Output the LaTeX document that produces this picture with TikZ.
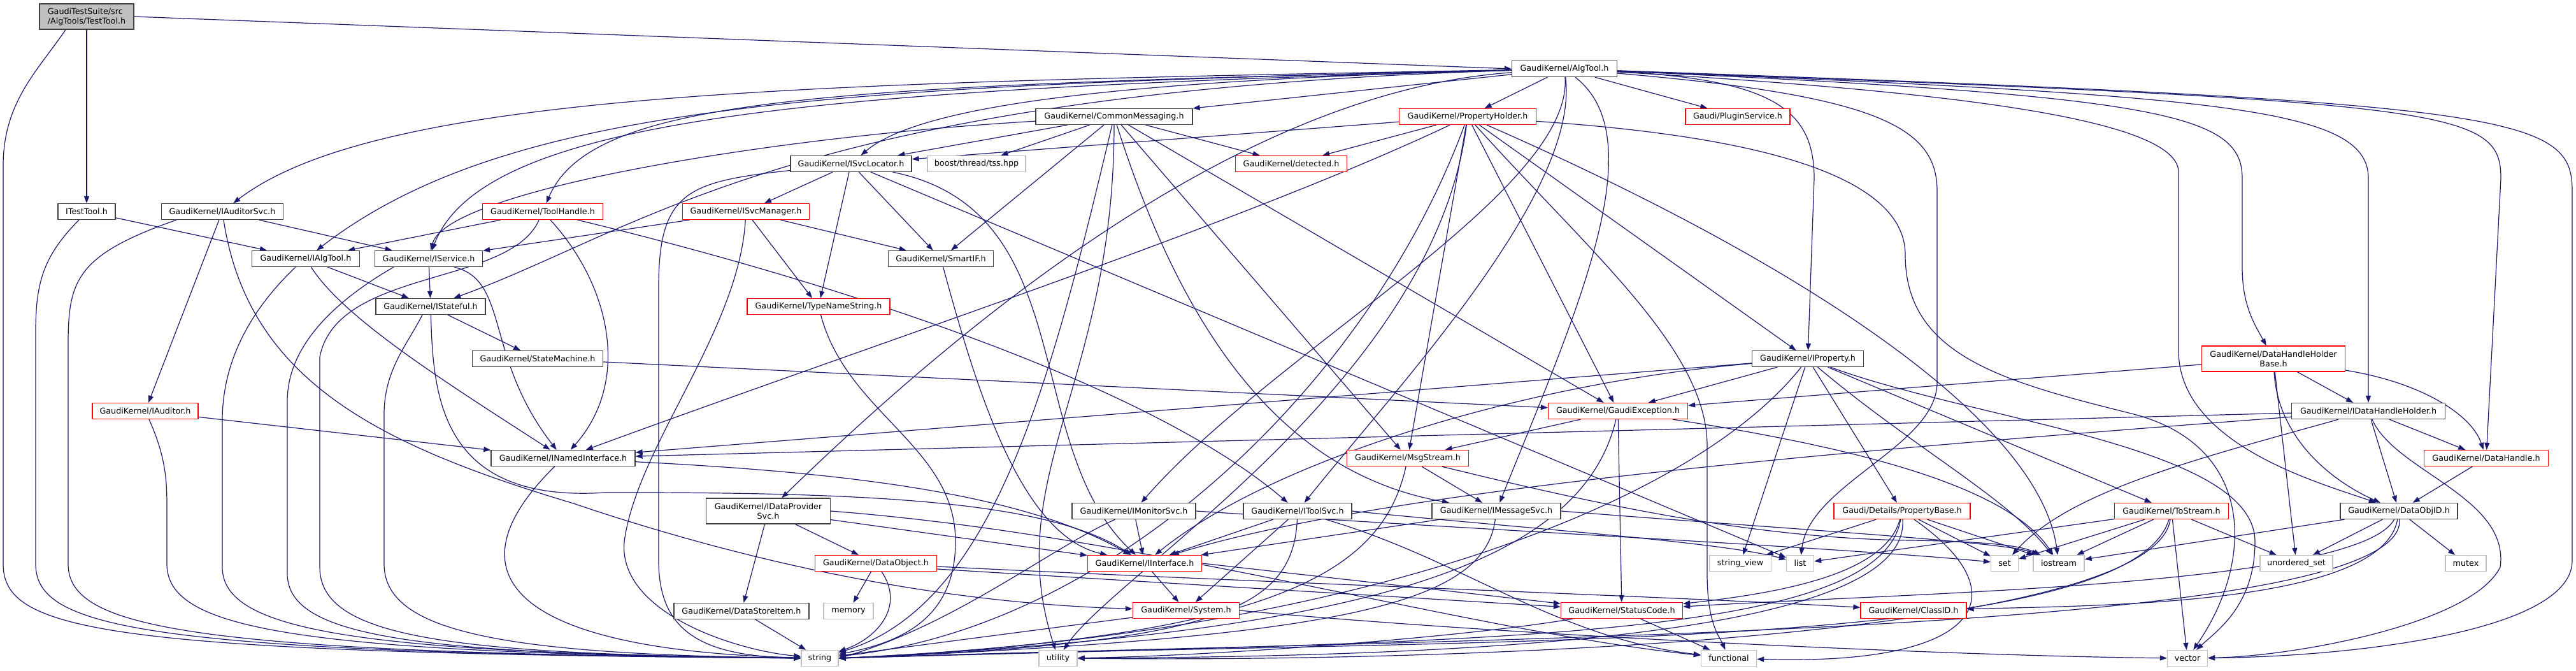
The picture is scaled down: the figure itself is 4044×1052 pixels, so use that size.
\documentclass[tikz,border=0pt]{standalone}
\usepackage{fontspec}
\setmainfont{DejaVu Sans}
\usetikzlibrary{arrows.meta,calc}
\pgfdeclarelayer{bg}
\pgfsetlayers{bg,main}
\definecolor{edgec}{HTML}{191970}
\definecolor{gA}{HTML}{404040}
\definecolor{gB}{HTML}{BFBFBF}
\definecolor{rdc}{HTML}{FF0000}
\begin{document}
\begin{tikzpicture}[x=1pt,y=1pt,
 nd/.style={draw=gA, fill=white, line width=1.3pt, inner sep=0pt, minimum height=25pt, font=\fontsize{12.75}{15}\selectfont, text=black},
 rdn/.style={nd, draw=rdc},
 gyn/.style={nd, draw=gB},
 rtn/.style={nd, fill=gB},
 e/.style={draw=edgec, line width=1.2pt, -{Triangle[length=11pt,width=8pt]}}]
\useasboundingbox (0,0) rectangle (4044,-1052);
% nodes
\node[rtn, minimum width=148pt, minimum height=40pt, align=left] (TT) at (136,-26) {GaudiTestSuite/src\\/AlgTools/TestTool.h};
\node[nd, minimum width=165pt] (AT) at (2456,-108) {GaudiKernel/AlgTool.h};
\node[nd, minimum width=246pt] (CM) at (1749,-183) {GaudiKernel/CommonMessaging.h};
\node[rdn, minimum width=215pt] (PH) at (2304,-183) {GaudiKernel/PropertyHolder.h};
\node[rdn, minimum width=164pt] (PS) at (2728,-183) {Gaudi/PluginService.h};
\node[nd, minimum width=190pt] (SL) at (1336,-257) {GaudiKernel/ISvcLocator.h};
\node[gyn, minimum width=154pt] (TSS) at (1533,-257) {boost/thread/tss.hpp};
\node[rdn, minimum width=175pt] (DET) at (2027,-257) {GaudiKernel/detected.h};
\node[nd, minimum width=90pt] (ITT) at (136,-332) {ITestTool.h};
\node[nd, minimum width=191pt] (IAS) at (349,-332) {GaudiKernel/IAuditorSvc.h};
\node[rdn, minimum width=189pt] (TH) at (852,-332) {GaudiKernel/ToolHandle.h};
\node[rdn, minimum width=199pt] (SM) at (1171,-332) {GaudiKernel/ISvcManager.h};
\node[nd, minimum width=169pt] (IAT) at (480,-406) {GaudiKernel/IAlgTool.h};
\node[nd, minimum width=169pt] (IS) at (673,-406) {GaudiKernel/IService.h};
\node[nd, minimum width=165pt] (SIF) at (1477,-406) {GaudiKernel/SmartIF.h};
\node[nd, minimum width=172pt] (IST) at (676,-481) {GaudiKernel/IStateful.h};
\node[rdn, minimum width=224pt] (TNS) at (1285,-481) {GaudiKernel/TypeNameString.h};
\node[nd, minimum width=205pt] (STM) at (844,-563) {GaudiKernel/StateMachine.h};
\node[nd, minimum width=175pt] (IP) at (2838,-563) {GaudiKernel/IProperty.h};
\node[rdn, minimum width=225pt, minimum height=40pt, align=center] (DHHB) at (3569,-563) {GaudiKernel/DataHandleHolder\\Base.h};
\node[rdn, minimum width=166pt] (IAU) at (228,-645) {GaudiKernel/IAuditor.h};
\node[rdn, minimum width=219pt] (GE) at (2540,-645) {GaudiKernel/GaudiException.h};
\node[nd, minimum width=241pt] (IDHH) at (3718,-645) {GaudiKernel/IDataHandleHolder.h};
\node[nd, minimum width=226pt] (INI) at (884,-719) {GaudiKernel/INamedInterface.h};
\node[rdn, minimum width=191pt] (MS) at (2210,-719) {GaudiKernel/MsgStream.h};
\node[rdn, minimum width=195pt] (DH) at (3903,-719) {GaudiKernel/DataHandle.h};
\node[nd, minimum width=195pt, minimum height=40pt, align=center] (IDPS) at (1206,-802) {GaudiKernel/IDataProvider\\Svc.h};
\node[nd, minimum width=194pt] (IMON) at (1780,-802) {GaudiKernel/IMonitorSvc.h};
\node[nd, minimum width=170pt] (ITS) at (2037,-802) {GaudiKernel/IToolSvc.h};
\node[nd, minimum width=202pt] (IMS) at (2349,-802) {GaudiKernel/IMessageSvc.h};
\node[rdn, minimum width=214pt] (PB) at (2986,-802) {Gaudi/Details/PropertyBase.h};
\node[rdn, minimum width=179pt] (TS) at (3409,-802) {GaudiKernel/ToStream.h};
\node[nd, minimum width=184pt] (DOID) at (3766,-802) {GaudiKernel/DataObjID.h};
\node[rdn, minimum width=191pt] (DO) at (1375,-884) {GaudiKernel/DataObject.h};
\node[rdn, minimum width=179pt] (II) at (1797,-884) {GaudiKernel/IInterface.h};
\node[gyn, minimum width=97pt] (SV) at (2732,-884) {string\_view};
\node[gyn, minimum width=43pt] (LIST) at (2826,-884) {list};
\node[gyn, minimum width=43pt] (SET) at (3147,-884) {set};
\node[gyn, minimum width=80pt] (IOS) at (3232,-884) {iostream};
\node[gyn, minimum width=114pt] (USET) at (3605,-884) {unordered\_set};
\node[gyn, minimum width=64pt] (MUT) at (3871,-884) {mutex};
\node[nd, minimum width=212pt] (DSI) at (1164,-959) {GaudiKernel/DataStoreItem.h};
\node[gyn, minimum width=78pt] (MEM) at (1332,-959) {memory};
\node[rdn, minimum width=167pt] (SYS) at (1862,-958) {GaudiKernel/System.h};
\node[rdn, minimum width=191pt] (SC) at (2546,-958) {GaudiKernel/StatusCode.h};
\node[rdn, minimum width=166pt] (CID) at (3004,-958) {GaudiKernel/ClassID.h};
\node[gyn, minimum width=58pt] (STR) at (1287,-1033) {string};
\node[gyn, minimum width=60pt] (UTIL) at (1661,-1033) {utility};
\node[gyn, minimum width=87pt] (FUNC) at (2714,-1033) {functional};
\node[gyn, minimum width=63pt] (VEC) at (3434,-1033) {vector};

\begin{pgfonlayer}{bg}
\fill[white] (0,0) rectangle (4044,-1052);
% TestTool
\draw[e] (TT.east) -- (AT.west);
\draw[e] (TT) -- (ITT);
\draw[e] ($(TT.south)+(-33,0)$) .. controls (60,-110) and (5,-160) .. (5,-260) -- (5,-885) .. controls (5,-990) and (160,-1025) .. (STR);
% AlgTool
\draw[e] (AT) -- (PS);
\draw[e] (AT) -- (CM);
\draw[e] (AT) -- (PH);
\draw[e] (AT) .. controls (1300,-130) and (600,-140) .. (IAS);
\draw[e] (AT) .. controls (1300,-135) and (800,-160) .. (IAT);
\draw[e] (AT) .. controls (1300,-140) and (760,-180) .. (IS);
\draw[e] (AT) .. controls (1250,-145) and (1010,-360) .. (IST);
\draw[e] (AT) .. controls (1300,-135) and (930,-150) .. (TH);
\draw[e] (AT) .. controls (1800,-125) and (1450,-160) .. (SL);
\draw[e] (AT) .. controls (2000,-140) and (1600,-420) .. (IDPS);
\draw[e] (AT) .. controls (2470,-300) and (2000,-550) .. (IMON);
\draw[e] (AT) .. controls (2480,-300) and (2200,-600) .. (ITS);
\draw[e] (AT) .. controls (2600,-220) and (2470,-500) .. (IMS);
\draw[e] (AT) .. controls (2780,-125) and (2848,-170) .. (2848,-280) -- (IP);
\draw[e] (AT) .. controls (2950,-150) and (3041,-200) .. (3041,-300) -- (3041,-600) .. controls (3041,-700) and (2840,-760) .. (LIST);
\draw[e] (AT) .. controls (3000,-140) and (3420,-180) .. (3420,-270) -- (3420,-550) .. controls (3420,-700) and (3650,-760) .. (DOID);
\draw[e] (AT) .. controls (3400,-150) and (3520,-180) .. (3520,-280) -- (3520,-420) .. controls (3520,-480) and (3540,-510) .. (DHHB);
\draw[e] (AT) .. controls (3500,-150) and (3718,-170) .. (3718,-280) -- (IDHH);
\draw[e] (AT) .. controls (3850,-160) and (3926,-170) .. (3926,-280) -- (DH);
\draw[e] (AT) .. controls (3950,-160) and (4038,-180) .. (4038,-300) -- (4038,-880) .. controls (4038,-990) and (3700,-1030) .. (VEC);
% CommonMessaging
\draw[e] (CM) .. controls (1200,-215) and (700,-300) .. (IS);
\draw[e] (CM) -- (SL);
\draw[e] (CM) -- (TSS);
\draw[e] (CM) -- (SIF);
\draw[e] (CM) -- (DET);
\draw[e] (CM) .. controls (1650,-600) and (1560,-950) .. (STR);
\draw[e] (CM) .. controls (1749,-600) and (1570,-750) .. (UTIL);
\draw[e] (CM) -- (MS);
\draw[e] (CM) .. controls (1850,-500) and (2000,-740) .. (IMS);
\draw[e] (CM) -- (GE);
% PropertyHolder
\draw[e] (PH) -- (SL);
\draw[e] (PH) -- (DET);
\draw[e] (PH) .. controls (1950,-350) and (1400,-530) .. (INI);
\draw[e] (PH) .. controls (2150,-600) and (1750,-985) .. (STR);
\draw[e] (PH) .. controls (2250,-600) and (1750,-900) .. (UTIL);
\draw[e] (PH) -- (MS);
\draw[e] (PH) -- (GE);
\draw[e] (PH) -- (IP);
\draw[e] (PH) .. controls (2800,-400) and (3200,-650) .. (IOS);
\draw[e] (PH) .. controls (2700,-210) and (2991,-260) .. (2991,-400) .. controls (2991,-560) and (3150,-600) .. (3350,-650) .. controls (3540,-700) and (3540,-880) .. (VEC);
\draw[e] (PH) .. controls (2500,-400) and (2680,-550) .. (2680,-700) -- (2680,-900) .. controls (2680,-980) and (2700,-1000) .. (FUNC);
% ISvcLocator
\draw[e] (SL) -- (SM);
\draw[e] (SL) -- (TNS);
\draw[e] (SL) -- (SIF);
\draw[e] (SL) .. controls (1700,-330) and (1600,-700) .. (II);
\draw[e] (SL) -- (LIST);
\draw[e] (SL) .. controls (1080,-285) and (1034,-300) .. (1034,-450) -- (1034,-880) .. controls (1034,-990) and (1100,-1030) .. (STR);
% ITestTool
\draw[e] (ITT) -- (IAT);
\draw[e] ($(ITT.south)+(-12,0)$) .. controls (70,-400) and (56,-440) .. (56,-520) -- (56,-885) .. controls (56,-985) and (220,-1025) .. (STR);
% IAuditorSvc
\draw[e] (IAS) -- (IS);
\draw[e] (IAS) -- (IAU);
\draw[e] ($(IAS.south)+(-72,0)$) .. controls (120,-400) and (107,-440) .. (107,-540) -- (107,-885) .. controls (107,-985) and (290,-1025) .. (STR);
\draw[e] (IAS) .. controls (390,-600) and (600,-700) .. (900,-790) .. controls (1300,-925) and (1600,-950) .. (SYS);
% IAuditor
\draw[e] (IAU) -- (INI);
\draw[e] (IAU) .. controls (262,-720) and (262,-760) .. (262,-800) -- (262,-885) .. controls (262,-985) and (450,-1025) .. (STR);
% IAlgTool
\draw[e] (IAT) -- (IST);
\draw[e] (IAT) .. controls (540,-500) and (700,-600) .. (INI);
\draw[e] ($(IAT.south)+(-16,0)$) .. controls (400,-480) and (349,-560) .. (349,-660) -- (349,-890) .. controls (349,-990) and (560,-1025) .. (STR);
% IService
\draw[e] (IS) -- (IST);
\draw[e] ($(IS.south)+(40,0)$) .. controls (800,-440) and (760,-560) .. (INI);
\draw[e] ($(IS.south)+(-55,0)$) .. controls (530,-470) and (451,-540) .. (451,-630) -- (451,-900) .. controls (451,-1000) and (650,-1027) .. (STR);
% IStateful
\draw[e] (IST) -- (STM);
\draw[e] ($(IST.south)+(-13,0)$) .. controls (640,-540) and (603,-580) .. (603,-650) -- (603,-885) .. controls (603,-990) and (780,-1027) .. (STR);
\draw[e] (IST) .. controls (680,-620) and (690,-790) .. (950,-773) .. controls (1400,-772) and (1650,-790) .. (II);
% ToolHandle
\draw[e] (TH) -- (IAT);
\draw[e] (TH) .. controls (960,-450) and (990,-600) .. (INI);
\draw[e] (TH) .. controls (1300,-440) and (1800,-600) .. (ITS);
\draw[e] (TH) .. controls (800,-450) and (530,-420) .. (502,-560) -- (502,-890) .. controls (502,-1000) and (700,-1027) .. (STR);
% ISvcManager
\draw[e] (SM) -- (IS);
\draw[e] (SM) -- (TNS);
\draw[e] (SM) -- (SIF);
\draw[e] (SM) .. controls (1160,-520) and (1000,-700) .. (980,-850) .. controls (970,-960) and (1150,-1020) .. (STR);
% SmartIF, TypeNameString, StateMachine
\draw[e] (SIF) .. controls (1530,-600) and (1600,-840) .. (II);
\draw[e] (TNS) .. controls (1330,-650) and (1500,-700) .. (1500,-850) .. controls (1500,-980) and (1400,-1010) .. (STR);
\draw[e] (STM) -- (GE);
% IProperty
\draw[e] (IP) -- (INI);
\draw[e] (IP) .. controls (2400,-600) and (2000,-720) .. (II);
\draw[e] (IP) -- (GE);
\draw[e] (IP) .. controls (2650,-800) and (2100,-1000) .. (STR.east);
\draw[e] (IP) -- (SV);
\draw[e] (IP) -- (PB);
\draw[e] (IP) .. controls (3000,-700) and (3150,-780) .. (IOS);
\draw[e] (IP) -- (TS);
\draw[e] (IP) .. controls (3100,-660) and (3540,-700) .. (3540,-850) .. controls (3540,-950) and (3480,-990) .. (VEC);
% DataHandleHolderBase
\draw[e] (DHHB) -- (GE);
\draw[e] (DHHB) -- (USET);
\draw[e] (DHHB) .. controls (3575,-680) and (3650,-750) .. (DOID);
\draw[e] (DHHB) -- (IDHH);
\draw[e] (DHHB) .. controls (3800,-600) and (3880,-650) .. (DH);
% GaudiException
\draw[e] (GE) -- (MS);
\draw[e] (GE) .. controls (2480,-900) and (2100,-995) .. (STR.east);
\draw[e] (GE) -- (SC);
\draw[e] (GE) .. controls (2900,-700) and (3150,-760) .. (IOS);
% IDataHandleHolder
\draw[e] (IDHH) -- (INI);
\draw[e] (IDHH) .. controls (3000,-700) and (2200,-760) .. (II);
\draw[e] (IDHH) .. controls (3450,-720) and (3250,-770) .. (SET);
\draw[e] (IDHH) -- (DOID);
\draw[e] (IDHH) .. controls (3760,-740) and (3940,-780) .. (3925,-890) .. controls (3880,-980) and (3600,-1030) .. (VEC);
\draw[e] (IDHH) -- (DH);
% INamedInterface, MsgStream, DataHandle
\draw[e] (INI) .. controls (1300,-740) and (1600,-770) .. (II);
\draw[e] (INI) .. controls (700,-900) and (800,-1020) .. (STR);
\draw[e] (MS) -- (IMS);
\draw[e] (MS) .. controls (2170,-900) and (2000,-1000) .. (STR.east);
\draw[e] (MS) .. controls (2500,-790) and (2750,-845) .. (3000,-848) .. controls (3150,-850) and (3180,-860) .. (IOS);
\draw[e] (DH) -- (DOID);
% IDataProviderSvc
\draw[e] (IDPS) -- (DSI);
\draw[e] (IDPS) -- (DO);
\draw[e] (IDPS) -- (II);
\draw[e] (IDPS.east) .. controls (1800,-840) and (2300,-990) .. (FUNC);
% IMonitorSvc
\draw[e] (IMON) -- (II);
\draw[e] (IMON) .. controls (1650,-860) and (1500,-980) .. (STR.east);
\draw[e] (IMON.east) .. controls (2300,-830) and (2900,-860) .. (SET);
% IToolSvc
\draw[e] (ITS) -- (II);
\draw[e] (ITS) -- (SYS);
\draw[e] (ITS) .. controls (2030,-960) and (1900,-1010) .. (STR.east);
\draw[e] (ITS) .. controls (2300,-880) and (2440,-1000) .. (FUNC);
\draw[e] (ITS.east) .. controls (2400,-830) and (2700,-850) .. (LIST);
% IMessageSvc
\draw[e] (IMS) -- (II);
\draw[e] (IMS) .. controls (2330,-950) and (2100,-1000) .. (STR.east);
\draw[e] (IMS.east) .. controls (2800,-830) and (3150,-850) .. (IOS);
% PropertyBase
\draw[e] (PB) -- (SV);
\draw[e] (PB) .. controls (2960,-900) and (2800,-930) .. (SC);
\draw[e] (PB) .. controls (2950,-1010) and (2300,-1005) .. (STR.east);
\draw[e] (PB) .. controls (3000,-1000) and (2300,-1030) .. (UTIL.east);
\draw[e] (PB) -- (SET);
\draw[e] (PB) .. controls (3170,-930) and (3120,-1045) .. (FUNC);
\draw[e] (PB) -- (IOS);
% ToStream
\draw[e] (TS) -- (LIST);
\draw[e] (TS) -- (SET);
\draw[e] (TS) -- (IOS);
\draw[e] (TS) .. controls (3340,-1030) and (2300,-1000) .. (STR.east);
\draw[e] (TS) .. controls (3380,-1000) and (2300,-1040) .. (UTIL.east);
\draw[e] (TS) -- (VEC);
\draw[e] (TS) -- (USET);
% DataObjID
\draw[e] (DOID) -- (IOS);
\draw[e] (DOID) -- (USET);
\draw[e] (DOID) .. controls (3700,-920) and (3000,-930) .. (SC);
\draw[e] (DOID) .. controls (3740,-950) and (3300,-950) .. (CID);
\draw[e] (DOID) .. controls (3780,-1000) and (2300,-1000) .. (STR.east);
\draw[e] (DOID) -- (MUT);
% DataObject
\draw[e] ($(DO.east)+(0,-5)$) .. controls (2000,-915) and (2600,-935) .. (CID);
\draw[e] ($(DO.east)+(0,-9)$) -- (SC);
\draw[e] (DO) -- (MEM);
\draw[e] (DO) .. controls (1420,-950) and (1380,-1000) .. (STR);
% IInterface, System, StatusCode, DataStoreItem
\draw[e] (II) -- (SYS);
\draw[e] (II.east) -- (SC);
\draw[e] (SYS) -- (STR);
\draw[e] (SYS.east) .. controls (2400,-1000) and (3100,-1030) .. (VEC);
\draw[e] (SC) .. controls (2300,-1000) and (1900,-1030) .. (UTIL);
\draw[e] (SC) -- (FUNC);
\draw[e] (DSI) -- (STR);
\end{pgfonlayer}
\end{tikzpicture}
\end{document}
